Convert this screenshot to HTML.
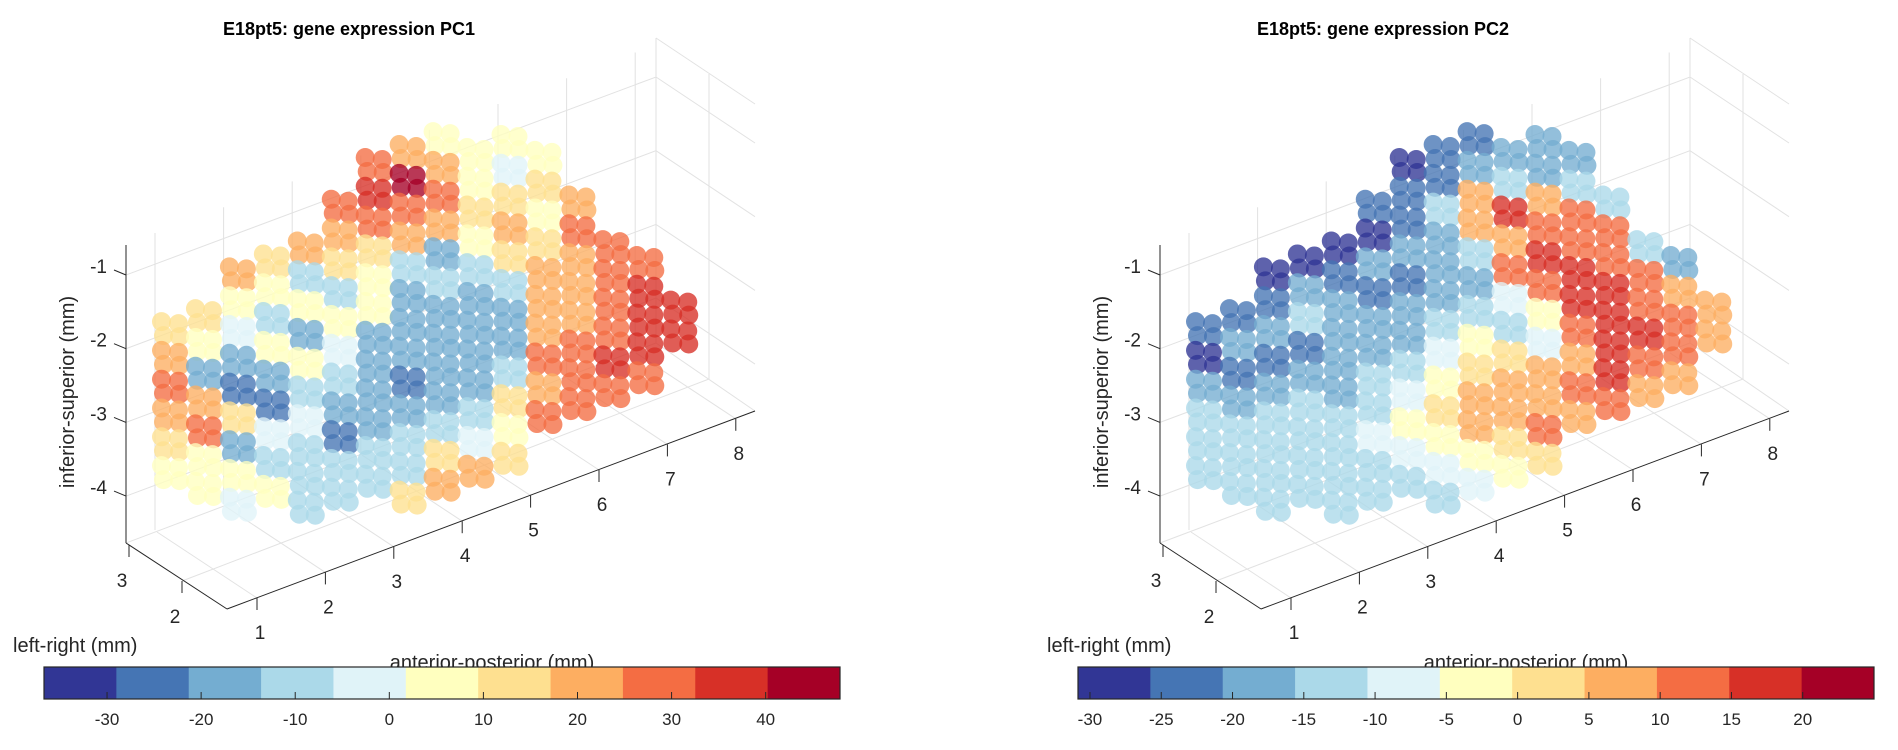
<!DOCTYPE html>
<html><head><meta charset="utf-8"><style>
html,body{margin:0;padding:0;background:#fff;}
svg{display:block;font-family:"Liberation Sans",sans-serif;}
</style></head><body>
<svg id="fig" width="1898" height="750" viewBox="0 0 1898 750" xmlns="http://www.w3.org/2000/svg">
<rect width="1898" height="750" fill="#fff"/>
</svg>
<script>
const apCols = [1,1.5,2,2.5,3,3.5,4,4.5,5,5.5,6,6.5,7,7.5,8,8.5];
const zRows = [0.6,0.2,-0.2,-0.6,-1.0,-1.4,-1.8,-2.2,-2.6,-3.0,-3.4,-3.8,-4.2];
const colStart = [3,3,2,2,2,1,0,0,0,1,1,2,4,6,7,9];
const pc1Vals = [
[12,20,25,20,10,5],
[15,5,-15,18,25,8,4],
[18,8,-5,-20,-25,10,-15,5,0],
[15,6,-8,8,-18,-25,-5,-8,2],
[20,-8,6,-15,5,-10,-5,-10,-10,-8],
[30,20,10,-12,5,-2,-10,-18,-22,-8,-10],
[30,40,30,15,8,5,-15,-20,-20,-15,-10,-8],
[20,42,32,20,-8,-15,-18,-20,-22,-18,-10,-8,15],
[8,18,28,18,-15,-10,-18,-20,-18,-15,-10,15,18],
[8,5,15,6,-10,-15,-18,-20,-15,-10,-3,18],
[5,-5,15,20,10,-10,-15,-15,-8,15,5,15],
[5,12,8,15,18,20,22,28,22,30],
[20,25,20,18,20,28,30,25],
[30,28,32,32,35,28],
[30,35,37,35,30],
[35,35]
];
const pc2Vals = [
[-23,-27,-18,-14,-14,-13],
[-23,-20,-25,-18,-15,-13,-12],
[-27,-22,-18,-22,-18,-14,-13,-13,-12],
[-26,-20,-15,-22,-18,-15,-14,-13,-12],
[-27,-22,-20,-18,-20,-18,-15,-14,-13,-13],
[-23,-27,-18,-22,-18,-20,-15,-13,-10,-13,-13],
[-27,-23,-22,-18,-22,-20,-18,-13,-9,-3,-8,-12],
[-23,-22,-12,-18,-20,-18,-14,-8,-4,3,-3,-9,-12],
[-23,-20,8,5,-13,-16,-12,-4,2,5,6,-3,-8],
[-18,-13,15,8,10,-8,-12,2,6,8,3,-3],
[-20,-17,6,12,15,12,-3,-7,5,8,10,0],
[-18,-12,12,10,15,17,10,6,14,6],
[-12,12,14,15,17,18,15,10],
[-12,10,14,15,12,6],
[-16,6,12,10,5],
[6,8]
];
const pc1Ticks = [-30,-20,-10,0,10,20,30,40];
const pc2Ticks = [-30,-25,-20,-15,-10,-5,0,5,10,15,20];
const pc1Domain = [-36.7,47.9];
const pc2Domain = [-30.84,25.0];
const zTicks = [-1,-2,-3,-4];
const apTicks = [1,2,3,4,5,6,7,8];
const lrTicks = [3,2];
const cmap = ['#313695','#4575b4','#74add1','#abd9e9','#e0f3f8','#ffffbf','#fee090','#fdae61','#f46d43','#d73027','#a50026'];

const NS='http://www.w3.org/2000/svg';
const svg=document.getElementById('fig');
function mk(tag,attrs,parent){const e=document.createElementNS(NS,tag);for(const k in attrs)e.setAttribute(k,attrs[k]);(parent||svg).appendChild(e);return e;}
function colorOf(v,dom){let i=Math.floor((v-dom[0])/(dom[1]-dom[0])*11);i=Math.max(0,Math.min(10,i));return cmap[i];}

function drawPanel(off,title,vals,ticks,dom,key){
  const g=mk('g',{});
  
  
  const px=(ap)=>170+(ap-1)*67.9+off;
  const py=(ap,z)=>595-(ap-1)*25.9-(z+4.3)*72;
  const zy=(z)=>275+(-1-z)*73.7;
  const apX=(a)=>257+(a-1)*68.4+off;
  const apY=(a)=>598-(a-1)*25.6;
  const grid=mk('g',{stroke:'#e2e2e2','stroke-width':1,fill:'none'},g);
  
  
  zTicks.forEach(z=>{const y=zy(z);mk('polyline',{points:`${126+off},${y} ${656+off},${y-198} ${755+off},${y-132}`},grid);});
  for(let k=0;k<8;k++){const x=155+k*68.6;const yt=233-(x-155)*0.376;const yb=530-(x-155)*0.376;mk('line',{x1:x+off,y1:yt,x2:x+off,y2:yb},grid);}
  mk('line',{x1:656+off,y1:38,x2:656+off,y2:343},grid);
  mk('line',{x1:709+off,y1:74,x2:709+off,y2:379},grid);
  mk('line',{x1:656+off,y1:38,x2:755+off,y2:104},grid);
  mk('line',{x1:126+off,y1:543,x2:656+off,y2:343},grid);
  mk('line',{x1:656+off,y1:343,x2:755+off,y2:411},grid);
  mk('line',{x1:182+off,y1:581,x2:709+off,y2:379},grid);
  apTicks.forEach(a=>{mk('line',{x1:apX(a),y1:apY(a),x2:apX(a)-100,y2:apY(a)-66},grid);});
  const sc=mk('g',{},g);
  
  
  const subs=[[-8.5,-7],[8.5,-5],[-6.5,7],[9.5,8]];
  apCols.forEach((ap,ci)=>{
    vals[ci].forEach((v,ri)=>{
      const z=zRows[colStart[ci]+ri];
      const cx=px(ap),cy=py(ap,z);
      subs.forEach(s=>{
        const c=mk('circle',{cx:cx+s[0],cy:cy+s[1],r:9.5,fill:colorOf(v,dom),'fill-opacity':0.78},sc);
        
        
      });
    });
  });
  const ax=mk('g',{stroke:'#262626','stroke-width':1,fill:'none'},g);
  
  
  mk('line',{x1:126+off,y1:245,x2:126+off,y2:543},ax);
  mk('line',{x1:126+off,y1:543,x2:227+off,y2:609},ax);
  mk('line',{x1:227+off,y1:609,x2:755+off,y2:411},ax);
  zTicks.forEach(z=>{
    const y=zy(z);
    mk('line',{x1:126+off,y1:y,x2:114+off,y2:y-5},ax);
    const t=mk('text',{x:107+off,y:y-2,'text-anchor':'end','font-size':19,fill:'#262626',stroke:'none'},g);
    t.textContent=z;
    
    
  });
  apTicks.forEach(a=>{
    const x=apX(a), y=apY(a);
    mk('line',{x1:x,y1:y,x2:x,y2:y+12},ax);
    const t=mk('text',{x:x+3,y:y+41,'text-anchor':'middle','font-size':19,fill:'#262626',stroke:'none'},g);
    t.textContent=a;
    
    
  });
  lrTicks.forEach((l,i)=>{
    const x=129+i*53+off, y=545+i*36;
    mk('line',{x1:x,y1:y,x2:x,y2:y+12},ax);
    const t=mk('text',{x:x-7,y:y+42,'text-anchor':'middle','font-size':19,fill:'#262626',stroke:'none'},g);
    t.textContent=l;
    
    
  });
  const tt=mk('text',{x:349+off,y:35,'text-anchor':'middle','font-size':18,'font-weight':'bold',fill:'#000'},g);
  tt.textContent=title;
  
  
  const zl=mk('text',{x:0,y:0,'text-anchor':'middle','font-size':20,fill:'#262626',transform:`translate(${74+off},392) rotate(-90)`},g);
  zl.textContent='inferior-superior (mm)';
  
  
  const ll=mk('text',{x:13+off,y:652,'font-size':20,fill:'#262626'},g);
  ll.textContent='left-right (mm)';
  
  
  const al=mk('text',{x:492+off,y:669,'text-anchor':'middle','font-size':20,fill:'#262626'},g);
  al.textContent='anterior-posterior (mm)';
  
  
  const cb=mk('g',{},g);
  
  
  const x0=44+off, x1=840+off, y0=667, y1=699;
  const cx=(v)=>x0+(v-dom[0])/(dom[1]-dom[0])*(x1-x0);
  for(let i=0;i<11;i++){
    const r=mk('rect',{x:x0+i*(x1-x0)/11,y:y0,width:(x1-x0)/11+0.5,height:y1-y0,fill:cmap[i]},cb);
    
    
  }
  mk('rect',{x:x0,y:y0,width:x1-x0,height:y1-y0,fill:'none',stroke:'#262626','stroke-width':1.2},cb);
  ticks.forEach(v=>{
    const x=cx(v);
    mk('line',{x1:x,y1:y1,x2:x,y2:y1-7,stroke:'#262626','stroke-width':1},cb);
    const t=mk('text',{x:x,y:725,'text-anchor':'middle','font-size':17,fill:'#262626'},cb);
    t.textContent=v;
    
    
  });
}
drawPanel(0,'E18pt5: gene expression PC1',pc1Vals,pc1Ticks,pc1Domain,'pc1');
drawPanel(1034,'E18pt5: gene expression PC2',pc2Vals,pc2Ticks,pc2Domain,'pc2');
</script>
</body></html>
